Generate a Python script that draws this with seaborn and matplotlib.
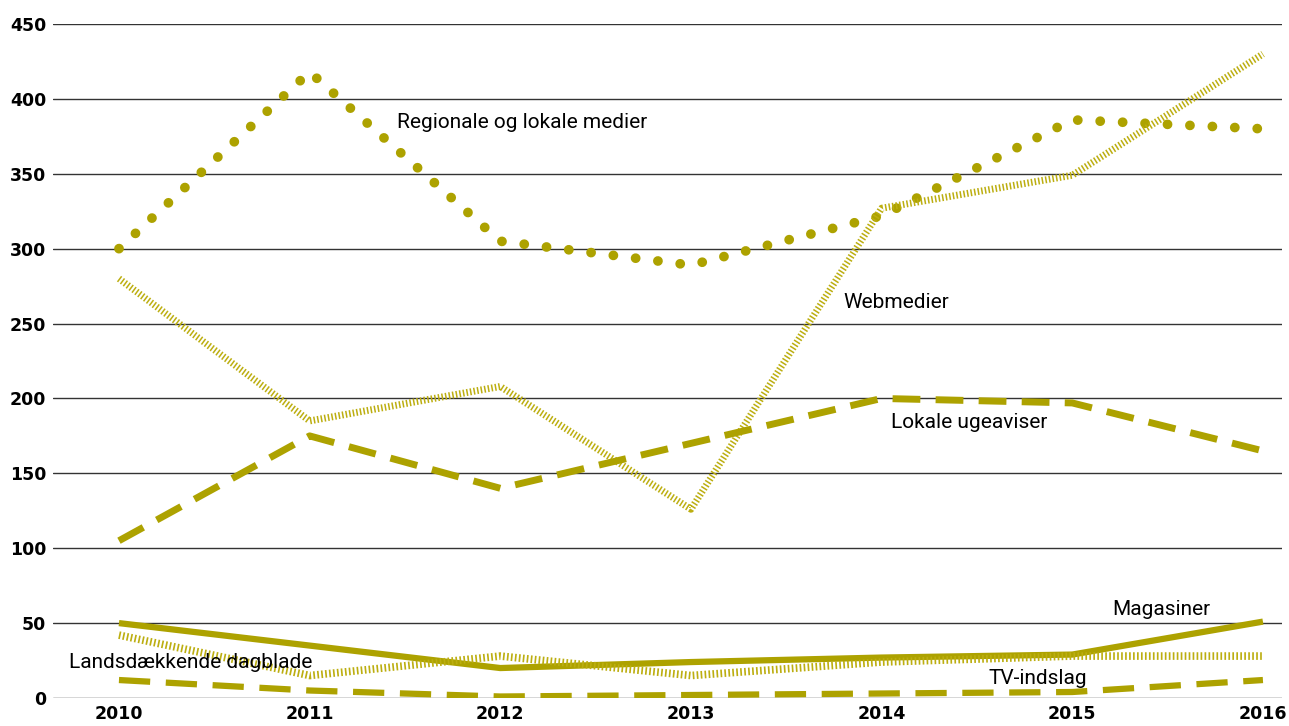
import matplotlib
matplotlib.use("Agg")
import matplotlib.pyplot as plt
import seaborn as sns
import pandas as pd

years = [2010, 2011, 2012, 2013, 2014, 2015, 2016]
regionale = [300, 418, 305, 289, 322, 386, 380]
webmedier = [280, 185, 208, 126, 327, 349, 430]
ugeaviser = [105, 175, 140, 170, 200, 197, 165]
magasiner = [50, 35, 20, 24, 27, 29, 51]
dagblade = [42, 15, 28, 15, 24, 28, 28]
tv = [12, 5, 1, 2, 3, 4, 12]

names = ["Regionale og lokale medier", "Webmedier", "Lokale ugeaviser",
         "Magasiner", "Landsdækkende dagblade", "TV-indslag"]
series = [regionale, webmedier, ugeaviser, magasiner, dagblade, tv]

df = pd.DataFrame({"year": years * len(names),
                   "value": sum(series, []),
                   "serie": sum([[n] * len(years) for n in names], [])})

sns.set_theme(style="white")
plt.rcParams['font.family'] = ['DejaVu Sans']

col = "#ada200"
fig = plt.figure(figsize=(12.89, 7.26), dpi=100)
ax = fig.add_axes([53 / 1289, 1 - 698 / 726, (1282 - 53) / 1289, (698 - 24) / 726])

for y in range(0, 451, 50):
    ax.axhline(y, color="#333333", lw=1.0, zorder=0)

styles = {
    "Regionale og lokale medier": dict(lw=7, dashes=(0.01, 2.3), solid_capstyle="round", dash_capstyle="round"),
    "Webmedier": dict(lw=5, dashes=(0.22, 0.3), dash_capstyle="butt", color="#bcae10"),
    "Lokale ugeaviser": dict(lw=5, dashes=(4, 2.2), dash_capstyle="butt"),
    "Magasiner": dict(lw=4.5, solid_capstyle="butt"),
    "Landsdækkende dagblade": dict(lw=5.5, dashes=(0.22, 0.3), dash_capstyle="butt", color="#bcae10"),
    "TV-indslag": dict(lw=4.5, dashes=(5, 2.5), dash_capstyle="butt"),
}

for n in names:
    st = dict(styles[n])
    c = st.pop("color", col)
    sub = df[df["serie"] == n]
    sns.lineplot(data=sub, x="year", y="value", ax=ax, color=c, legend=False,
                 sort=False, estimator=None, **st)

ax.set_xlim(2010 - 0.346, 2016.1)
ax.set_ylim(0, 450)
ax.set_xticks(years)
ax.set_yticks(range(0, 451, 50))
ax.set_xticklabels([str(y) for y in years], fontweight="bold", fontsize=12.5, color="black")
ax.set_yticklabels([str(v) for v in range(0, 451, 50)], fontweight="bold", fontsize=12.5, color="black")
ax.tick_params(axis="both", length=0, pad=5)
ax.tick_params(axis="x", pad=5)
for s in ax.spines.values():
    s.set_visible(False)
ax.set_xlabel("")
ax.set_ylabel("")
ax.grid(False)

lab = dict(fontsize=15, color="black", family=['Roboto', 'DejaVu Sans'])
ax.text(2011.458, 384, "Regionale og lokale medier", ha="left", va="center", **lab)
ax.text(2013.80, 264, "Webmedier", ha="left", va="center", **lab)
ax.text(2014.05, 184, "Lokale ugeaviser", ha="left", va="center", **lab)
ax.text(2015.21, 59, "Magasiner", ha="left", va="center", **lab)
ax.text(2009.74, 24, "Landsdækkende dagblade", ha="left", va="center", **lab)
ax.text(2014.56, 13, "TV-indslag", ha="left", va="center", **lab)

fig.savefig("out.png", dpi=100)
